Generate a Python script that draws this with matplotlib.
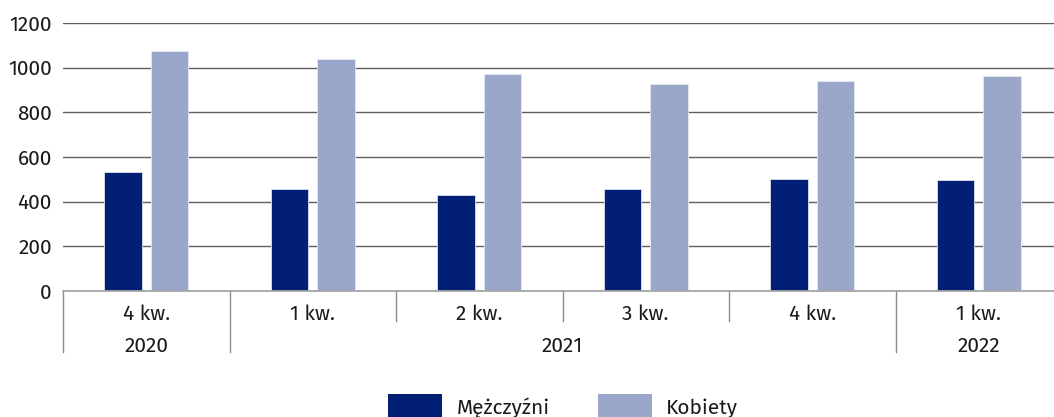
import numpy as np
import matplotlib.pyplot as plt
from matplotlib.patches import Patch

quarters = ["4 kw.", "1 kw.", "2 kw.", "3 kw.", "4 kw.", "1 kw."]
years = ["2020", "2021", "2022"]
year_spans = [(0, 1), (1, 5), (5, 6)]  # quarter index ranges per year
men = [531, 457, 430, 457, 502, 496]
women = [1076, 1039, 972, 927, 942, 963]

dark = "#001F75"
light = "#9AA7CA"
text_col = "#1a1a1a"

plt.rcParams['font.family'] = ['Fira Sans', 'Noto Sans', 'DejaVu Sans']
plt.rcParams['font.size'] = 15

fig = plt.figure(figsize=(10.54, 4.17), dpi=100)
ax = fig.add_axes([63 / 1054, 126 / 417, 999 / 1054, 268 / 417])

x = np.arange(len(quarters)) + 0.5
w = 0.225
off = 0.141
ax.bar(x - off, men, w, color=dark, edgecolor="#dde2ee", linewidth=0.6, zorder=3)
ax.bar(x + off, women, w, color=light, edgecolor="#e4e8f1", linewidth=0.6, zorder=3)

ax.set_xlim(0, len(quarters))
ax.set_ylim(0, 1200)
ax.set_yticks(range(0, 1201, 200))
ax.yaxis.grid(True, color="#5f5f5f", linewidth=1.0, zorder=0)
ax.tick_params(axis="y", length=0, pad=8, labelcolor=text_col)
ax.set_xticks([])
for s in ["left", "right", "top"]:
    ax.spines[s].set_visible(False)
ax.spines["bottom"].set_color("#a6a6a6")
ax.spines["bottom"].set_linewidth(1.3)
ax.spines["bottom"].set_zorder(4)

tr = ax.get_xaxis_transform()
short = -30 / 268
long_ = -61 / 268
year_edges = {s for s, e in year_spans} | {e for s, e in year_spans}
for b in range(len(quarters) + 1):
    yb = long_ if b in year_edges else short
    ax.plot([b, b], [0, yb], transform=tr, color="#8c8c8c", linewidth=1.0, clip_on=False)

for xi, q in zip(x, quarters):
    ax.text(xi, -23 / 268, q, transform=tr, ha="center", va="center", color=text_col)
for (s, e), yr in zip(year_spans, years):
    ax.text((s + e) / 2, -55 / 268, yr, transform=tr, ha="center", va="center", color=text_col)

handles = [Patch(facecolor=dark, label="Mężczyźni"), Patch(facecolor=light, label="Kobiety")]
fig.legend(handles=handles, loc="center", bbox_to_anchor=(563 / 1054, 10 / 417), ncol=2,
           frameon=False, handlelength=2.6, handleheight=1.5, handletextpad=0.7,
           columnspacing=2.3, labelcolor=text_col)

fig.savefig("out.png", dpi=100)
